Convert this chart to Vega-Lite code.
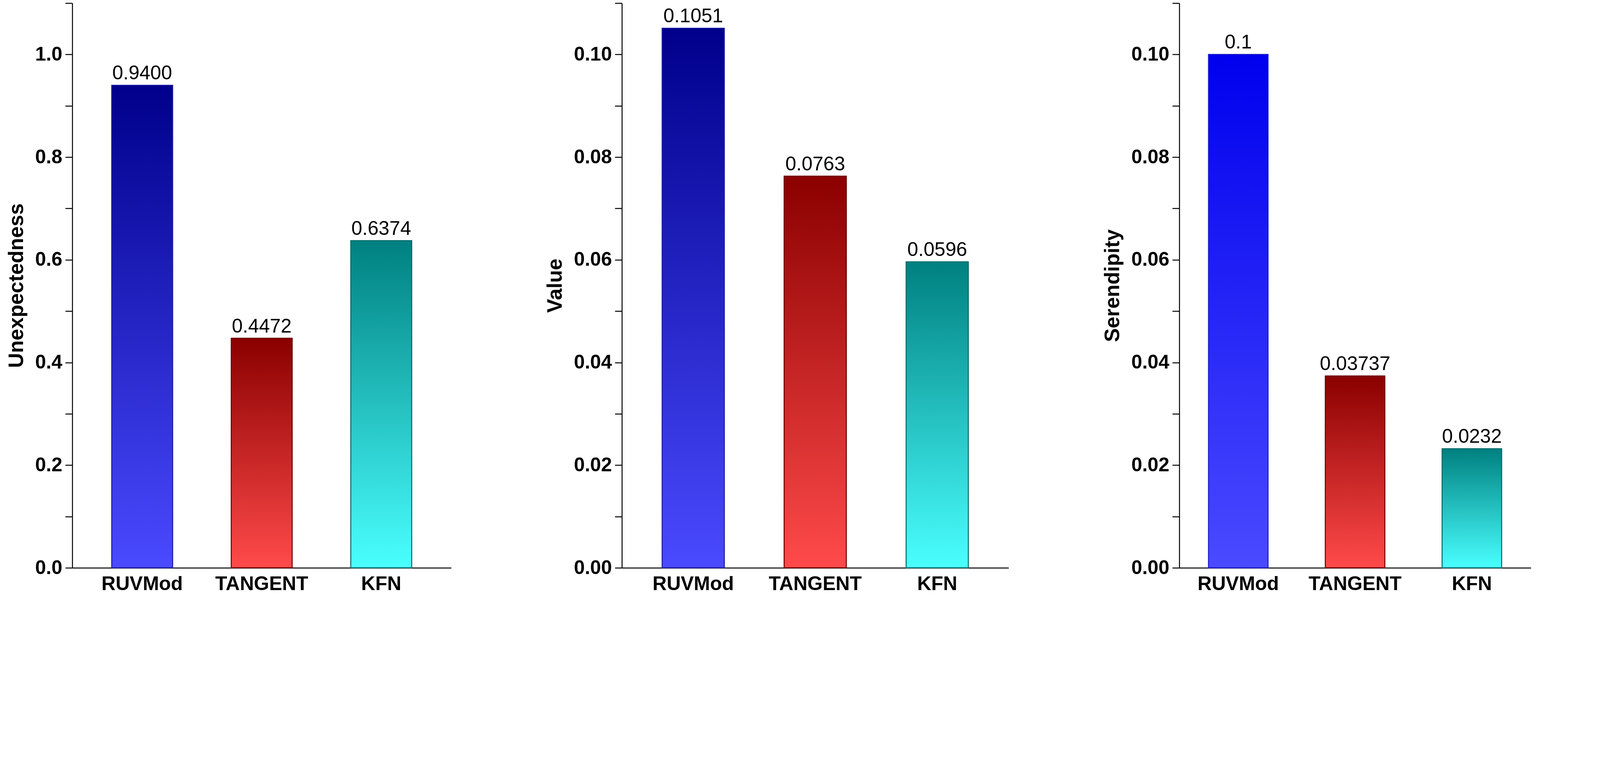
{
  "$schema": "https://vega.github.io/schema/vega-lite/v6.json",
  "background": "white",
  "padding": {"left": 16, "top": 6, "right": 8, "bottom": 4},
  "spacing": 240,
  "config": {
    "font": "Liberation Sans",
    "view": {"stroke": null},
    "axis": {"domainColor": "black", "tickColor": "black", "domainWidth": 2.5, "tickWidth": 2.5, "grid": false, "labelColor": "black", "titleColor": "black"},
    "axisY": {"labelFontSize": 50, "labelFontWeight": "bold", "titleFontSize": 53, "titleFontWeight": "bold", "tickSize": 18, "tickDirection": "out", "labelPadding": 8, "titlePadding": 20},
    "axisX": {"labelFontSize": 50, "labelFontWeight": "bold", "labelAngle": 0, "ticks": false, "labelPadding": 16, "labelLimit": 0, "labelOverlap": false, "title": null}
  },
  "datasets": {
    "unexp": [{"method": "RUVMod", "v": 0.94, "label": "0.9400"}, {"method": "TANGENT", "v": 0.4472, "label": "0.4472"}, {"method": "KFN", "v": 0.6374, "label": "0.6374"}],
    "value": [{"method": "RUVMod", "v": 0.1051, "label": "0.1051"}, {"method": "TANGENT", "v": 0.0763, "label": "0.0763"}, {"method": "KFN", "v": 0.0596, "label": "0.0596"}],
    "seren": [{"method": "RUVMod", "v": 0.1, "label": "0.1"}, {"method": "TANGENT", "v": 0.03737, "label": "0.03737"}, {"method": "KFN", "v": 0.0232, "label": "0.0232"}]
  },
  "hconcat": [
    {
      "width": 970, "height": 1445,
      "data": {"name": "unexp"},
      "encoding": {
        "x": {"field": "method", "type": "nominal", "sort": ["RUVMod", "TANGENT", "KFN"], "scale": {"paddingInner": 0.49, "paddingOuter": 0.33}},
        "y": {"field": "v", "type": "quantitative", "title": "Unexpectedness", "scale": {"domain": [0, 1.1], "nice": false},
          "axis": {"values": [0, 0.1, 0.2, 0.3, 0.4, 0.5, 0.6, 0.7, 0.8, 0.9, 1.0, 1.1], "labelExpr": "round(datum.value*10) % 2 == 0 && datum.value < 1.05 ? format(datum.value, '.1f') : ''"}}
      },
      "layer": [
        {"transform": [{"filter": "datum.method == 'RUVMod'"}], "mark": {"type": "bar", "stroke": "#1a1aa0", "strokeWidth": 2.5, "color": {"gradient": "linear", "x1": 0, "y1": 0, "x2": 0, "y2": 1, "stops": [{"offset": 0, "color": "#00008b"}, {"offset": 1, "color": "#4a4aff"}]}}},
        {"transform": [{"filter": "datum.method == 'TANGENT'"}], "mark": {"type": "bar", "stroke": "#6b0000", "strokeWidth": 2.5, "color": {"gradient": "linear", "x1": 0, "y1": 0, "x2": 0, "y2": 1, "stops": [{"offset": 0, "color": "#8b0000"}, {"offset": 1, "color": "#ff4a4a"}]}}},
        {"transform": [{"filter": "datum.method == 'KFN'"}], "mark": {"type": "bar", "stroke": "#006868", "strokeWidth": 2.5, "color": {"gradient": "linear", "x1": 0, "y1": 0, "x2": 0, "y2": 1, "stops": [{"offset": 0, "color": "#008080"}, {"offset": 1, "color": "#4affff"}]}}},
        {"mark": {"type": "text", "baseline": "bottom", "dy": -5, "fontSize": 50, "color": "black"}, "encoding": {"text": {"field": "label"}}}
      ]
    },
    {
      "width": 990, "height": 1445,
      "data": {"name": "value"},
      "encoding": {
        "x": {"field": "method", "type": "nominal", "sort": ["RUVMod", "TANGENT", "KFN"], "scale": {"paddingInner": 0.49, "paddingOuter": 0.33}},
        "y": {"field": "v", "type": "quantitative", "title": "Value", "scale": {"domain": [0, 0.11], "nice": false},
          "axis": {"values": [0, 0.01, 0.02, 0.03, 0.04, 0.05, 0.06, 0.07, 0.08, 0.09, 0.1, 0.11], "labelExpr": "round(datum.value*100) % 2 == 0 && datum.value < 0.105 ? format(datum.value, '.2f') : ''"}}
      },
      "layer": [
        {"transform": [{"filter": "datum.method == 'RUVMod'"}], "mark": {"type": "bar", "stroke": "#1a1aa0", "strokeWidth": 2.5, "color": {"gradient": "linear", "x1": 0, "y1": 0, "x2": 0, "y2": 1, "stops": [{"offset": 0, "color": "#00008b"}, {"offset": 1, "color": "#4a4aff"}]}}},
        {"transform": [{"filter": "datum.method == 'TANGENT'"}], "mark": {"type": "bar", "stroke": "#6b0000", "strokeWidth": 2.5, "color": {"gradient": "linear", "x1": 0, "y1": 0, "x2": 0, "y2": 1, "stops": [{"offset": 0, "color": "#8b0000"}, {"offset": 1, "color": "#ff4a4a"}]}}},
        {"transform": [{"filter": "datum.method == 'KFN'"}], "mark": {"type": "bar", "stroke": "#006868", "strokeWidth": 2.5, "color": {"gradient": "linear", "x1": 0, "y1": 0, "x2": 0, "y2": 1, "stops": [{"offset": 0, "color": "#008080"}, {"offset": 1, "color": "#4affff"}]}}},
        {"mark": {"type": "text", "baseline": "bottom", "dy": -5, "fontSize": 50, "color": "black"}, "encoding": {"text": {"field": "label"}}}
      ]
    },
    {
      "width": 900, "height": 1445,
      "data": {"name": "seren"},
      "encoding": {
        "x": {"field": "method", "type": "nominal", "sort": ["RUVMod", "TANGENT", "KFN"], "scale": {"paddingInner": 0.49, "paddingOuter": 0.25}},
        "y": {"field": "v", "type": "quantitative", "title": "Serendipity", "scale": {"domain": [0, 0.11], "nice": false},
          "axis": {"values": [0, 0.01, 0.02, 0.03, 0.04, 0.05, 0.06, 0.07, 0.08, 0.09, 0.1, 0.11], "labelExpr": "round(datum.value*100) % 2 == 0 && datum.value < 0.105 ? format(datum.value, '.2f') : ''"}}
      },
      "layer": [
        {"transform": [{"filter": "datum.method == 'RUVMod'"}], "mark": {"type": "bar", "stroke": "#1a1acc", "strokeWidth": 2.5, "color": {"gradient": "linear", "x1": 0, "y1": 0, "x2": 0, "y2": 1, "stops": [{"offset": 0, "color": "#0000ee"}, {"offset": 1, "color": "#4a4aff"}]}}},
        {"transform": [{"filter": "datum.method == 'TANGENT'"}], "mark": {"type": "bar", "stroke": "#6b0000", "strokeWidth": 2.5, "color": {"gradient": "linear", "x1": 0, "y1": 0, "x2": 0, "y2": 1, "stops": [{"offset": 0, "color": "#8b0000"}, {"offset": 1, "color": "#ff4a4a"}]}}},
        {"transform": [{"filter": "datum.method == 'KFN'"}], "mark": {"type": "bar", "stroke": "#006868", "strokeWidth": 2.5, "color": {"gradient": "linear", "x1": 0, "y1": 0, "x2": 0, "y2": 1, "stops": [{"offset": 0, "color": "#008080"}, {"offset": 1, "color": "#4affff"}]}}},
        {"mark": {"type": "text", "baseline": "bottom", "dy": -5, "fontSize": 50, "color": "black"}, "encoding": {"text": {"field": "label"}}}
      ]
    }
  ]
}
